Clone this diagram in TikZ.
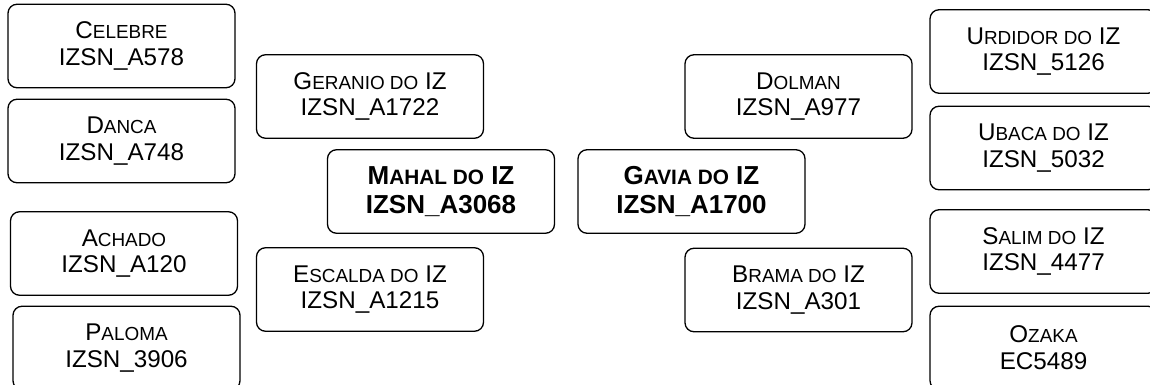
\documentclass[tikz,border=0pt]{standalone}
\usepackage{fontspec}
\setmainfont{Liberation Sans}
\newcommand\sk[1]{{\fontsize{18.9}{26.7}\selectfont #1}}
\newcommand\skb[1]{{\fontsize{20.8}{28.3}\selectfont #1}}
\begin{document}
\begin{tikzpicture}[x=1pt,y=-1pt,
  pbox/.style={draw=black, line width=1.3pt, rounded corners=9pt, minimum width=227pt, minimum height=83.5pt, inner sep=0pt, align=center, font=\fontsize{24.2}{26.7}\selectfont},
  mbox/.style={pbox, font=\fontsize{26}{28.3}\selectfont\bfseries}]
\useasboundingbox (0,0) rectangle (1150,385);
\clip (0,0) rectangle (1150,385);
\node[pbox] (celebre) at (121.5,46) {C\sk{ELEBRE}\\IZSN\_A578};
\node[pbox] (danca) at (121.5,141) {D\sk{ANCA}\\IZSN\_A748};
\node[pbox] (achado) at (124,253.5) {A\sk{CHADO}\\IZSN\_A120};
\node[pbox] (paloma) at (126.5,348) {P\sk{ALOMA}\\IZSN\_3906};
\node[pbox] (geranio) at (370,96.5) {G\sk{ERANIO DO} IZ\\IZSN\_A1722};
\node[pbox] (escalda) at (370,289.5) {E\sk{SCALDA DO} IZ\\IZSN\_A1215};
\node[mbox] (mahal) at (441,191.5) {M\skb{AHAL DO} IZ\\IZSN\_A3068};
\node[mbox] (gavia) at (691.5,191.5) {G\skb{AVIA DO} IZ\\IZSN\_A1700};
\node[pbox] (dolman) at (798.5,96.5) {D\sk{OLMAN}\\IZSN\_A977};
\node[pbox] (brama) at (798.5,290) {B\sk{RAMA DO} IZ\\IZSN\_A301};
\node[pbox] (urdidor) at (1043.5,51.5) {U\sk{RDIDOR DO} IZ\\IZSN\_5126};
\node[pbox] (ubaca) at (1043.5,148) {U\sk{BACA DO} IZ\\IZSN\_5032};
\node[pbox] (salim) at (1043.5,251.5) {S\sk{ALIM DO} IZ\\IZSN\_4477};
\node[pbox] (ozaka) at (1043.5,348) {O\sk{ZAKA}\\EC5489};
\end{tikzpicture}
\end{document}
